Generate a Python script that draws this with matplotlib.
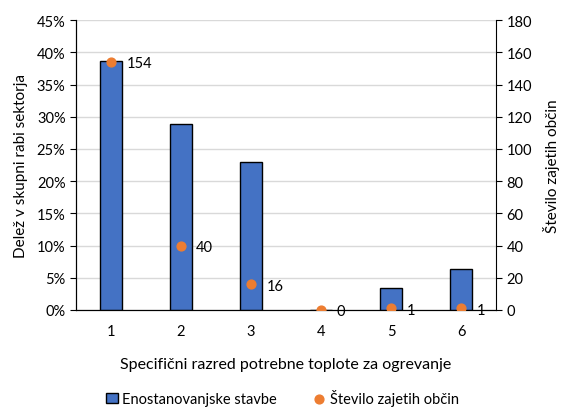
import matplotlib
matplotlib.use("Agg")
from matplotlib import pyplot as plt
from matplotlib.ticker import PercentFormatter
import numpy as np

plt.rcParams['font.family'] = ['Lato', 'DejaVu Sans']

categories = ['1', '2', '3', '4', '5', '6']
share = [38.7, 28.9, 23.0, 0.0, 3.4, 6.4]      # % of sector use
municipalities = [154, 40, 16, 0, 1, 1]

fig = plt.figure(figsize=(5.65, 4.14), dpi=100)
ax = fig.add_axes([0.1345, 0.249, 0.7435, 0.70])
x = np.arange(len(categories))

ax.bar(x, share, width=0.31, color='#4472C4', edgecolor='black', linewidth=1,
       zorder=3, label='Enostanovanjske stavbe')
ax.set_ylim(0, 45)
ax.set_yticks(np.arange(0, 46, 5))
ax.yaxis.set_major_formatter(PercentFormatter(decimals=0))
ax.set_xlim(-0.5, len(categories) - 0.5)
ax.set_xticks(x)
ax.set_xticklabels(categories)
ax.grid(axis='y', color='#d9d9d9', linewidth=1, zorder=0)
ax.tick_params(axis='x', length=0, pad=10, labelsize=10.5)
ax.tick_params(axis='y', length=4, labelsize=10.5)
ax.spines['top'].set_visible(False)
ax.spines['right'].set_visible(False)
ax.set_xlabel('Specifični razred potrebne toplote za ogrevanje', fontsize=11.5, labelpad=14)
ax.set_ylabel('Delež v skupni rabi sektorja', fontsize=11, labelpad=6)

ax2 = ax.twinx()
ax2.scatter(x, municipalities, s=40, color='#ED7D31', zorder=4,
            label='Število zajetih občin')
for xi, v in zip(x, municipalities):
    ax2.annotate(str(v), (xi, v), xytext=(11, -1), textcoords='offset points',
                 fontsize=10.5, ha='left', va='center')
ax2.set_ylim(0, 180)
ax2.set_yticks(np.arange(0, 181, 20))
ax2.tick_params(axis='y', length=4, labelsize=10.5)
ax2.spines['top'].set_visible(False)
ax2.set_ylabel('Število zajetih občin', fontsize=11, labelpad=8)

h1, l1 = ax.get_legend_handles_labels()
h2, l2 = ax2.get_legend_handles_labels()
fig.legend(h1 + h2, l1 + l2, loc='lower center', bbox_to_anchor=(0.5, -0.015),
           ncol=2, frameon=False, fontsize=10.5, handlelength=0.8,
           handletextpad=0.3, columnspacing=2.5)

fig.savefig('out.png', dpi=100)
